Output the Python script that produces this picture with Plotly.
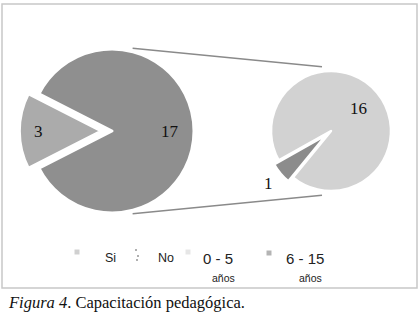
import math
import plotly.graph_objects as go

# ---- data ----
main_labels = ["No", "Si"]
main_values = [17, 3]
sub_labels = ["0 - 5 años", "6 - 15 años"]
sub_values = [16, 1]
legend_labels = ["Si", "No", "0 - 5", "6 - 15"]
legend_sub = ["", "", "años", "años"]
caption_italic = "Figura 4"
caption_text = ". Capacitación pedagógica."

W, H = 420, 319

def px(x):
    return x / W

def py(y):
    return 1 - y / H

# geometry (pixels)
big_c, big_r, big_pull = (112, 131), 82, 0.13
small_c, small_r, small_pull = (331, 131), 60, 0.10
big_rot = -63
small_rot = -119.4

def domain(c, r, pull):
    half = r * (1 + pull)
    return dict(x=[px(c[0] - half), px(c[0] + half)],
                y=[py(c[1] + half), py(c[1] - half)])

fig = go.Figure()
fig.add_trace(go.Pie(
    labels=main_labels, values=main_values, sort=False, direction="clockwise",
    rotation=big_rot, pull=[0, big_pull], textinfo="none", hoverinfo="skip",
    marker=dict(colors=["#8f8f8f", "#ababab"], line=dict(color="white", width=3)),
    domain=domain(big_c, big_r, big_pull), showlegend=False))
fig.add_trace(go.Pie(
    labels=sub_labels, values=sub_values, sort=False, direction="clockwise",
    rotation=small_rot, pull=[0, small_pull], textinfo="none", hoverinfo="skip",
    marker=dict(colors=["#d2d2d2", "#8c8c8c"], line=dict(color="white", width=2.5)),
    domain=domain(small_c, small_r, small_pull), showlegend=False))

def mid_angles(values, rot):
    tot = sum(values)
    out, acc = [], 0
    for v in values:
        out.append(rot + (acc + v / 2) / tot * 360)
        acc += v
    return out

annotations = []
def label_pie(values, rot, c, r, pull, fracs):
    for i, (v, a) in enumerate(zip(values, mid_angles(values, rot))):
        rad = math.radians(a)
        pr = r * pull if (i == len(values) - 1) else 0
        d = r * fracs[i] + pr
        x = c[0] + d * math.sin(rad)
        y = c[1] - d * math.cos(rad)
        annotations.append(dict(x=px(x), y=py(y), xref="paper", yref="paper",
                                xanchor="center", yanchor="middle",
                                text=str(v), showarrow=False,
                                font=dict(family="Liberation Serif", size=17, color="#111")))

label_pie(main_values, big_rot, big_c, big_r, big_pull, [0.71, 0.77])
label_pie(sub_values, small_rot, small_c, small_r, small_pull, [0.59, 1.25])

# legend
leg_x = [110, 166, 218, 305]
leg_size = [12.5, 12.5, 15, 15]
for t, s, x, fs in zip(legend_labels, legend_sub, leg_x, leg_size):
    annotations.append(dict(x=px(x), y=py(258), xref="paper", yref="paper", text=t,
                            xanchor="center", yanchor="middle",
                            showarrow=False, font=dict(family="Liberation Sans", size=fs, color="#222")))
    if s:
        annotations.append(dict(x=px(x + 5), y=py(278), xref="paper", yref="paper", text=s,
                                xanchor="center", yanchor="middle",
                                showarrow=False, font=dict(family="Liberation Sans", size=10.5, color="#222")))

annotations.append(dict(x=px(6), y=py(302), xref="paper", yref="paper", xanchor="left", yanchor="middle",
                        text="<i>" + caption_italic + "</i>" + caption_text, showarrow=False,
                        font=dict(family="Liberation Serif", size=16.5, color="#111")))

shapes = [dict(type="rect", xref="paper", yref="paper", x0=px(2), x1=px(417), y0=py(288), y1=py(4),
               line=dict(color="#c8c8c8", width=1.5), layer="above")]

# connector lines (angle clockwise from top, radius factor)
def pt(c, r, ang, f):
    a = math.radians(ang)
    return c[0] + r * f * math.sin(a), c[1] - r * f * math.cos(a)
for (a1, f1), (a2, f2) in [((14, 1.04), (-8, 1.08)), ((166, 1.04), (188, 1.08))]:
    x0, y0 = pt(big_c, big_r, a1, f1)
    x1, y1 = pt(small_c, small_r, a2, f2)
    shapes.append(dict(type="line", xref="paper", yref="paper", x0=px(x0), y0=py(y0),
                       x1=px(x1), y1=py(y1), line=dict(color="#8a8a8a", width=1.5)))

# legend markers
for (mx, my, col) in [(77, 252, "#d0d0d0"), (188, 252, "#e6e6e6"), (269, 253, "#b4b4b4")]:
    shapes.append(dict(type="rect", xref="paper", yref="paper", x0=px(mx - 2.5), x1=px(mx + 2.5),
                       y0=py(my + 2.5), y1=py(my - 2.5), line=dict(width=0), fillcolor=col))
for (mx, my) in [(136, 250), (138, 256), (137, 260)]:
    shapes.append(dict(type="rect", xref="paper", yref="paper", x0=px(mx - 1), x1=px(mx + 1),
                       y0=py(my + 1), y1=py(my - 1), line=dict(width=0), fillcolor="#b0b0b0"))

fig.update_layout(width=W, height=H, margin=dict(l=0, r=0, t=0, b=0),
                  paper_bgcolor="white", plot_bgcolor="white",
                  annotations=annotations, shapes=shapes)
fig.write_html("out.html", config={"displayModeBar": False},
               post_script="document.body.style.margin='0';")
